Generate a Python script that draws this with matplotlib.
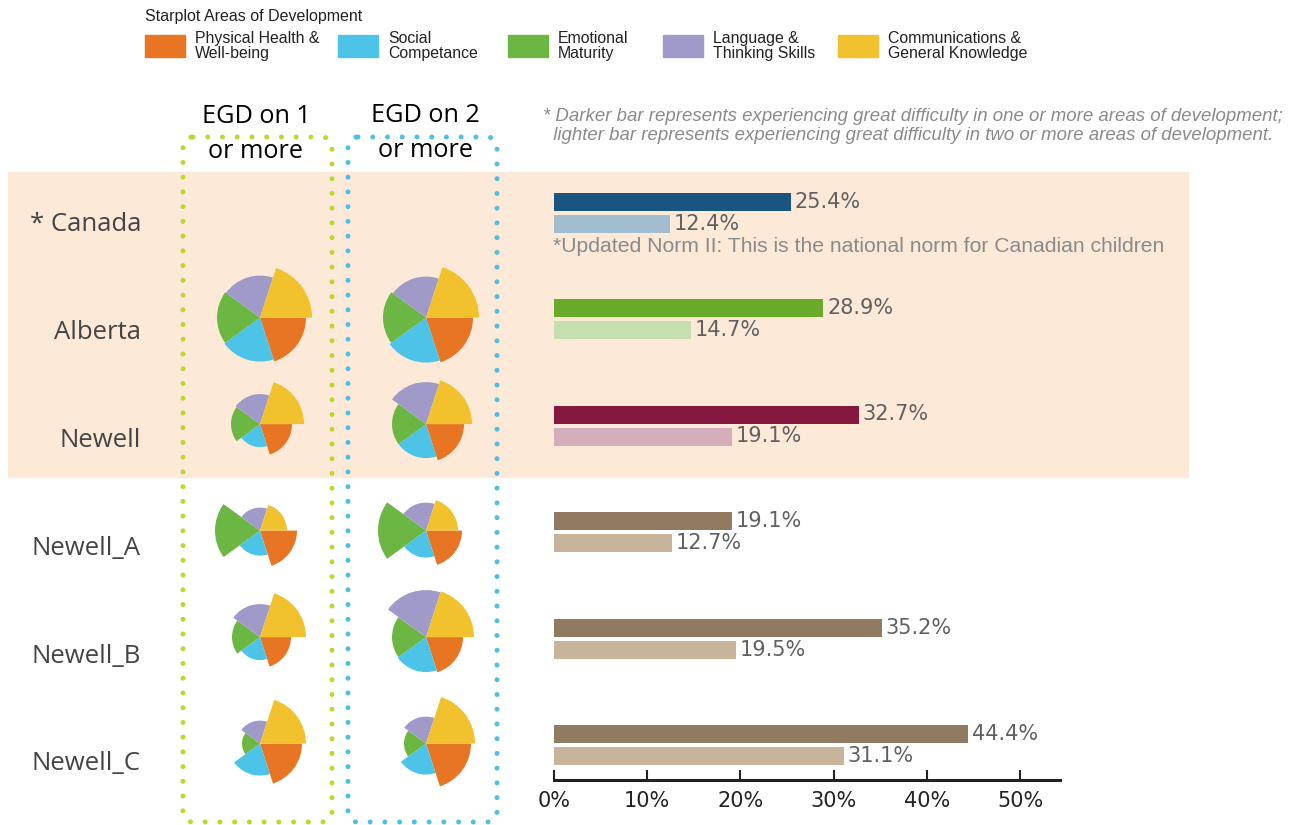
import matplotlib.pyplot as plt
from matplotlib.patches import Rectangle, Wedge, FancyBboxPatch
import numpy as np

# Data
regions = ["* Canada", "Alberta", "Newell", "Newell_A", "Newell_B", "Newell_C"]
egd1 = [25.4, 28.9, 32.7, 19.1, 35.2, 44.4]   # great difficulty on 1 or more
egd2 = [12.4, 14.7, 19.1, 12.7, 19.5, 31.1]   # great difficulty on 2 or more
dark_colors = ["#1a5580", "#6aaa2b", "#84183f", "#907a62", "#907a62", "#907a62"]
light_colors = ["#a3bdd0", "#c5dfae", "#d5aebb", "#c7b49a", "#c7b49a", "#c7b49a"]

domains = ["Physical Health &\nWell-being", "Social\nCompetance", "Emotional\nMaturity",
           "Language &\nThinking Skills", "Communications &\nGeneral Knowledge"]
domain_colors = ["#e87524", "#4dc3e8", "#6cb744", "#a09ac8", "#f2c12e"]

# starplot sizes per domain (Physical, Social, Emotional, Language, Communication)
# Canada row has no starplot
star_egd1 = [None,
             [46, 44, 43, 42, 52],
             [32, 23, 29, 30, 44],
             [37, 25, 45, 23, 27],
             [31, 23, 28, 33, 46],
             [42, 32, 18, 23, 46]]
star_egd2 = [None,
             [47, 45, 43, 41, 53],
             [38, 34, 34, 42, 46],
             [36, 27, 48, 28, 32],
             [37, 35, 34, 47, 48],
             [45, 31, 22, 27, 49]]

ticks = [0, 10, 20, 30, 40, 50]

plt.rcParams["lines.scale_dashes"] = False

W, H = 1302, 825
fig = plt.figure(figsize=(W / 100, H / 100), dpi=100)

# background layer in pixel units
bg = fig.add_axes([0, 0, 1, 1])
bg.set_xlim(0, W)
bg.set_ylim(H, 0)
bg.axis("off")

row_px0, row_step = 201.5, 106.5
def row_y(i):
    return row_px0 + row_step * i

bg.add_patch(Rectangle((8, 172), 1180, 305, color="#fde9d8", zorder=0))

# dotted boxes
for x0, col in [(183, "#c0d62f"), (348, "#4dbfe6")]:
    r = FancyBboxPatch((x0, 137), 149, 685, boxstyle="round,pad=0,rounding_size=10",
                       fill=False, edgecolor=col, linewidth=3.6,
                       linestyle=(0, (0.01, 10.6)), zorder=1)
    r.set_capstyle("round")
    bg.add_patch(r)

bg.text(256, 134, "EGD on 1\nor more", ha="center", va="center", fontsize=18.2,
        family="Open Sans", linespacing=1.48, color="black")
bg.text(425, 133, "EGD on 2\nor more", ha="center", va="center", fontsize=18.2,
        family="Open Sans", linespacing=1.48, color="black")

bg.text(543, 126, "* Darker bar represents experiencing great difficulty in one or more areas of development;\n"
        "  lighter bar represents experiencing great difficulty in two or more areas of development.",
        ha="left", va="center", fontsize=13.4, style="italic", color="#8a8a8a",
        family="Liberation Sans", linespacing=1.15)

# legend
bg.text(145, 16, "Starplot Areas of Development", ha="left", va="center", fontsize=11.5,
        family="Liberation Sans", color="#222222")
leg_x = [145, 338, 508, 663, 838]
for lx, lab, c in zip(leg_x, domains, domain_colors):
    bg.add_patch(Rectangle((lx, 35), 40, 22, color=c))
    bg.text(lx + 50, 46, lab, ha="left", va="center", fontsize=11.4,
            family="Liberation Sans", color="#222222", linespacing=1.0)

# row labels
for i, name in enumerate(regions):
    bg.text(141, row_y(i) + 23 + 1.4 * i, name, ha="right", va="center", fontsize=18.5,
            family="Open Sans", color="#444444")

bg.text(553, 246, "*Updated Norm II: This is the national norm for Canadian children",
        ha="left", va="center", fontsize=15.2, family="Liberation Sans", color="#8a8a8a")

# bar chart
ax_l, ax_r = 554, 1060
ax_t, ax_b = 172, 780
ax = fig.add_axes([ax_l / W, 1 - ax_b / H, (ax_r - ax_l) / W, (ax_b - ax_t) / H])
ax.patch.set_alpha(0)
xmax = 50 * (ax_r - ax_l) / (1020 - ax_l)
ax.set_xlim(0, xmax)
ax.set_ylim((ax_b - row_px0) / row_step, (ax_t - row_px0) / row_step)

y = np.arange(len(regions))
off = 22 / row_step
bh = 18 / row_step
ax.barh(y, egd1, height=bh, color=dark_colors)
ax.barh(y + off, egd2, height=bh, color=light_colors)
for yi, v in zip(y, egd1):
    ax.text(v + 0.4, yi, f"{v}%", va="center", ha="left", fontsize=15, color="#606060")
for yi, v in zip(y, egd2):
    ax.text(v + 0.4, yi + off, f"{v}%", va="center", ha="left", fontsize=15, color="#606060")

for s in ["top", "right", "left"]:
    ax.spines[s].set_visible(False)
ax.spines["bottom"].set_linewidth(2.2)
ax.spines["bottom"].set_color("#222222")
ax.set_yticks([])
ax.set_xticks(ticks)
ax.set_xticklabels([f"{t}%" for t in ticks])
ax.tick_params(axis="x", direction="in", length=7, width=1.5, color="#222222",
               labelsize=15, labelcolor="#222222", pad=8)

# starplots (y axis inverted, so angles are mirrored)
sp = fig.add_axes([150 / W, 1 - ax_b / H, 380 / W, (ax_b - ax_t) / H])
sp.axis("off")
sp.set_ylim(ax.get_ylim())
left = -(260 - 150) / row_step
sp.set_xlim(left, left + 380 / row_step)
col_x = [0, 166 / row_step]
starts = [288, 216, 144, 72, 0]   # Physical, Social, Emotional, Language, Communication
for i in range(len(regions)):
    for cx, data in zip(col_x, [star_egd1, star_egd2]):
        if data[i] is None:
            continue
        for r, t0, c in zip(data[i], starts, domain_colors):
            sp.add_patch(Wedge((cx, i + 0.09), r / row_step, -(t0 + 72), -t0, color=c,
                               linewidth=0, clip_on=False))

fig.savefig("out.png", dpi=100)
